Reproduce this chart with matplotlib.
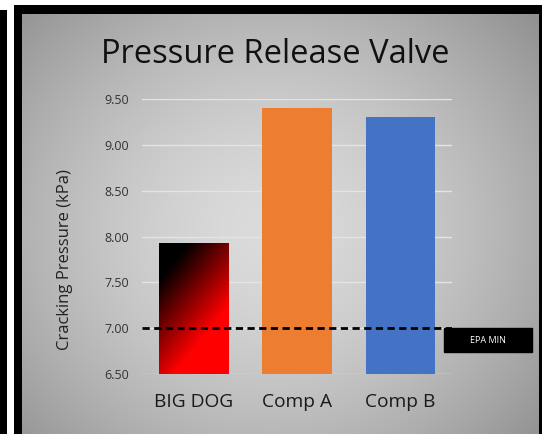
import numpy as np
import matplotlib
matplotlib.use("Agg")
import matplotlib.pyplot as plt
from matplotlib.patches import Rectangle

categories = ["BIG DOG", "Comp A", "Comp B"]
values = [7.93, 9.40, 9.30]
bar_colors = [None, "#ED7D31", "#4472C4"]
epa_min = 7.00
y_ticks = [6.50, 7.00, 7.50, 8.00, 8.50, 9.00, 9.50]

W, H = 545, 434
plt.rcParams["font.family"] = ["Open Sans", "DejaVu Sans"]

fig = plt.figure(figsize=(W / 100, H / 100), dpi=100)
fig.patch.set_facecolor("white")

# background: white page, black frame, gray radial panel
bg = fig.add_axes([0, 0, 1, 1], zorder=0)
bg.set_xlim(0, W)
bg.set_ylim(H, 0)
bg.axis("off")
yy, xx = np.mgrid[0:H, 0:W]
r = np.sqrt(((xx - 270) / 330.0) ** 2 + ((yy - 230) / 300.0) ** 2)
shade = np.clip(0.86 - 0.26 * r ** 1.6, 0.5, 1)
img = np.dstack([shade] * 3)
bg.add_patch(Rectangle((0, 10), 7, H, color="black", lw=0))
bg.add_patch(Rectangle((14, 5), 528, H, color="black", lw=0))
bg.imshow(img[14:, 22:539], extent=(22, 539, H, 14), zorder=2, aspect="auto")

ax = fig.add_axes([142 / W, 1 - 374 / H, 310 / W, 275 / H], zorder=1)
ax.patch.set_alpha(0)
x = np.arange(len(categories))
bars = ax.bar(x, values, width=0.67, bottom=0, color=[c or "black" for c in bar_colors],
              zorder=3)
ax.set_xlim(-0.5, 2.5)
ax.set_ylim(6.5, 9.5)
ax.set_yticks(y_ticks)
ax.set_yticklabels([f"{t:.2f}" for t in y_ticks], fontsize=9, color="#333333")
ax.set_xticks(x)
ax.set_xticklabels(categories, fontsize=13.8, color="#1a1a1a")
ax.tick_params(axis="both", length=0)
ax.tick_params(axis="y", pad=9.5)
ax.tick_params(axis="x", pad=14)
for s in ax.spines.values():
    s.set_visible(False)
ax.grid(axis="y", color="#e4e4e4", lw=1, zorder=1)
ax.set_axisbelow(True)

# black-to-red gradient for BIG DOG
b = bars[0]
b.set_facecolor("none")
v, u = np.mgrid[0:1:200j, 0:1:100j]
t = np.clip(0.767 * u + 1.164 * v - 0.333, 0, 1)
grad = np.dstack([t, np.zeros_like(t), np.zeros_like(t)])
gi = ax.imshow(grad, extent=(b.get_x(), b.get_x() + b.get_width(), 6.5, b.get_height()),
               aspect="auto", zorder=3, origin="upper", interpolation="bilinear")
gi.set_clip_path(b)

# EPA minimum line and label box
ax.axhline(epa_min, color="black", lw=2, ls=(0, (2.6, 1.6)), zorder=4)
ax.add_patch(Rectangle((2.42, epa_min - 0.26), 0.85, 0.26, color="black",
                       clip_on=False, zorder=5))
ax.text(2.845, epa_min - 0.13, "EPA MIN", color="white", fontsize=6.5,
        ha="center", va="center", clip_on=False, zorder=6)

fig.text(275 / W, 1 - 63 / H, "Pressure Release Valve", fontsize=23.5,
         ha="center", va="baseline", color="#111111")
fig.text(65 / W, 1 - 260 / H, "Cracking Pressure (kPa)", fontsize=12,
         rotation=90, ha="center", va="center", color="#222222")

fig.savefig("out.png", dpi=100)
